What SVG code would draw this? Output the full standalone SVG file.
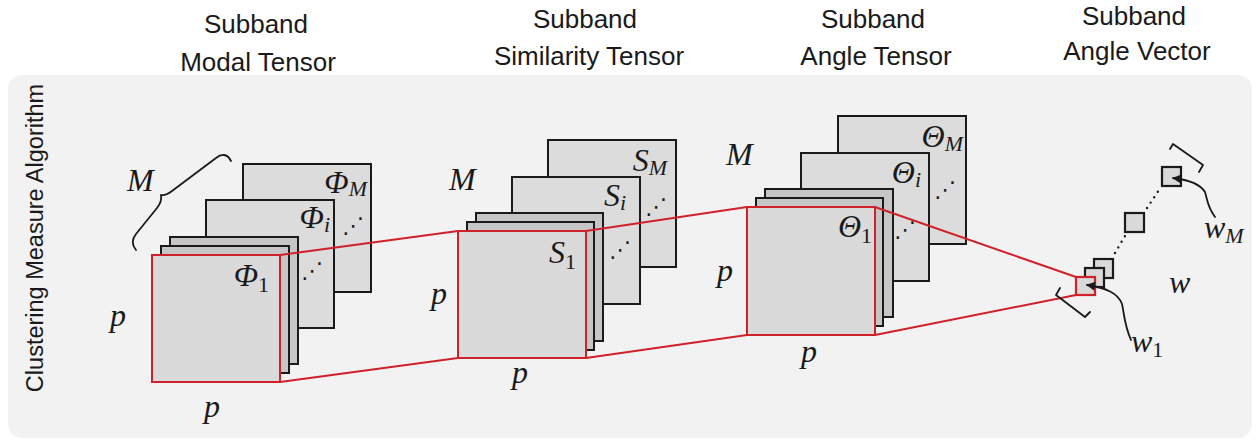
<svg xmlns="http://www.w3.org/2000/svg" width="1256" height="441" viewBox="0 0 1256 441">
<defs>
<style>
.title{font-family:"Liberation Sans",Arial,sans-serif;font-size:26px;fill:#1a1a1a;text-anchor:middle}
.side{font-family:"Liberation Sans",Arial,sans-serif;font-size:23.5px;fill:#1a1a1a;text-anchor:middle}
.math{font-family:"Liberation Serif","Times New Roman",serif;font-style:italic;font-size:32px;fill:#1a1a1a}
.sub{font-size:22px}
.up{font-style:normal}
.sheet{fill:#dcdcdc;stroke:#1a1a1a;stroke-width:2}
.thin{fill:#c6c6c6;stroke:#1a1a1a;stroke-width:2}
.front{fill:#dadada;stroke:#d0202a;stroke-width:2}
.red{fill:none;stroke:#d0202a;stroke-width:2}
.dots{font-family:"DejaVu Sans",sans-serif;font-size:22px;fill:#1a1a1a}
.sq{fill:#d9d9d9;stroke:#1a1a1a;stroke-width:2.2}
.blk{fill:none;stroke:#1a1a1a;stroke-width:1.8;stroke-linecap:round;stroke-linejoin:round}
.dotline{fill:none;stroke:#1a1a1a;stroke-width:2.4;stroke-linecap:round;stroke-dasharray:0 6.5}
</style>
<marker id="ah" viewBox="0 0 10 10" refX="9" refY="5" markerWidth="9" markerHeight="9" markerUnits="userSpaceOnUse" orient="auto">
<path d="M0,0 L10,5 L0,10 Z" fill="#1a1a1a"/>
</marker>
</defs>
<rect width="1256" height="441" fill="#ffffff"/>
<rect id="panel" x="8" y="75" width="1244" height="363" rx="14" fill="#f2f2f2"/>
<text class="side" transform="translate(43,238) rotate(-90)">Clustering Measure Algorithm</text>

<g id="title-modal">
<text class="title" x="256" y="33">Subband</text>
<text class="title" x="258" y="71">Modal Tensor</text>
</g>
<g id="title-similarity">
<text class="title" x="585" y="28">Subband</text>
<text class="title" x="589" y="65">Similarity Tensor</text>
</g>
<g id="title-angle-tensor">
<text class="title" x="873" y="28">Subband</text>
<text class="title" x="876" y="65">Angle Tensor</text>
</g>
<g id="title-angle-vector">
<text class="title" x="1134" y="25">Subband</text>
<text class="title" x="1137" y="60">Angle Vector</text>
</g>

<g id="modal-tensor">
<rect class="sheet" x="243" y="164" width="128" height="128"/>
<rect class="sheet" x="206" y="200" width="128" height="128"/>
<rect class="thin" x="170" y="237" width="128" height="127"/>
<rect class="thin" x="161" y="246" width="128" height="127"/>
<rect class="front" x="152" y="255" width="128" height="127"/>
<text class="math" x="367" y="193" text-anchor="end">Φ<tspan class="sub" dy="3">M</tspan></text>
<text class="math" x="330" y="228" text-anchor="end">Φ<tspan class="sub" dy="4">i</tspan></text>
<text class="math" x="269" y="286" text-anchor="end">Φ<tspan class="sub up" dy="6">1</tspan></text>
<text class="dots" x="342" y="233">⋰</text>
<text class="dots" x="301" y="278">⋰</text>
<text class="math" x="127" y="191">M</text>
<path class="blk" d="M136,250 C131,244 132,239 136,234 L157,208 C161,203 162,200 161,195 C165,196 168,194 172,191 L216,158 C221,154 227,153 231,161"/>
<text class="math" x="110" y="326">p</text>
<text class="math" x="204" y="417">p</text>
</g>

<g id="similarity-tensor">
<rect class="sheet" x="548" y="140" width="128" height="127"/>
<rect class="sheet" x="512" y="177" width="128" height="127"/>
<rect class="thin" x="476" y="213" width="127" height="128"/>
<rect class="thin" x="467" y="222" width="127" height="128"/>
<rect class="front" x="458" y="231" width="128" height="127"/>
<text class="math" x="667" y="171" text-anchor="end">S<tspan class="sub" dy="4">M</tspan></text>
<text class="math" x="626" y="206" text-anchor="end">S<tspan class="sub" dy="4">i</tspan></text>
<text class="math" x="576" y="263" text-anchor="end">S<tspan class="sub up" dy="6">1</tspan></text>
<text class="dots" x="645" y="214">⋰</text>
<text class="dots" x="609" y="257">⋰</text>
<text class="math" x="449" y="190">M</text>
<text class="math" x="431" y="304">p</text>
<text class="math" x="512" y="383">p</text>
</g>

<g id="angle-tensor">
<rect class="sheet" x="838" y="116" width="128" height="128"/>
<rect class="sheet" x="801" y="153" width="128" height="128"/>
<rect class="thin" x="765" y="189" width="128" height="128"/>
<rect class="thin" x="756" y="198" width="127" height="128"/>
<rect class="front" x="747" y="207" width="128" height="128"/>
<text class="math" x="963" y="147" text-anchor="end">Θ<tspan class="sub" dy="4">M</tspan></text>
<text class="math" x="921" y="183" text-anchor="end">Θ<tspan class="sub" dy="4">i</tspan></text>
<text class="math" x="872" y="237" text-anchor="end">Θ<tspan class="sub up" dy="6">1</tspan></text>
<text class="dots" x="934" y="197">⋰</text>
<text class="dots" x="894" y="237">⋰</text>
<text class="math" x="726" y="165">M</text>
<text class="math" x="717" y="281">p</text>
<text class="math" x="801" y="362">p</text>
</g>

<g id="connectors">
<line class="red" x1="280" y1="255" x2="458" y2="231"/>
<line class="red" x1="280" y1="382" x2="458" y2="358"/>
<line class="red" x1="586" y1="231" x2="747" y2="207"/>
<line class="red" x1="586" y1="358" x2="747" y2="335"/>
<line class="red" x1="875" y1="207" x2="1076" y2="277"/>
<line class="red" x1="875" y1="335" x2="1076" y2="295"/>
</g>

<g id="angle-vector">
<rect class="sq" x="1094" y="259" width="19" height="19"/>
<rect class="sq" x="1085" y="268" width="19" height="19"/>
<rect class="sq" x="1076" y="277" width="19" height="18" style="stroke:#d0202a"/>
<rect class="sq" x="1125" y="213" width="19" height="19"/>
<rect class="sq" x="1162" y="167" width="19" height="19"/>
<path class="dotline" d="M1115,253 L1125,236"/>
<path class="dotline" d="M1147,208 L1159,190"/>
<path class="blk" d="M1170,149 L1173,144 L1203,165 L1199,172"/>
<path class="blk" d="M1060,288 L1056,295 L1085,317 L1090,312"/>
<path class="blk" d="M1131,340 C1124,324 1124,312 1122,304 C1118,293 1106,288 1087,285" marker-end="url(#ah)"/>
<path class="blk" d="M1215,217 C1207,206 1207,198 1205,192 C1200,184 1190,180 1173,178" marker-end="url(#ah)"/>
<text class="math" x="1204" y="238">w<tspan class="sub" dy="5">M</tspan></text>
<text class="math" x="1169" y="293">w</text>
<text class="math" x="1131" y="352">w<tspan class="sub up" dy="5">1</tspan></text>
</g>
</svg>
